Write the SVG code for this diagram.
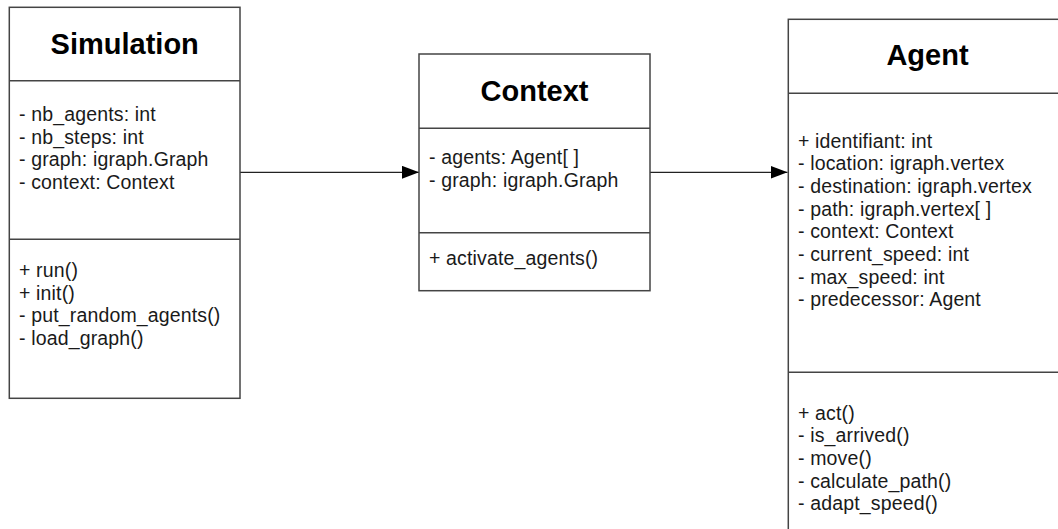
<svg xmlns="http://www.w3.org/2000/svg" width="1058" height="529" viewBox="0 0 1058 529">
<style>
.box{fill:#fff;stroke:#444;stroke-width:1.5}
.sep{stroke:#444;stroke-width:1.5}
.title{font-family:"Liberation Sans",Arial,sans-serif;font-weight:bold;font-size:29px;fill:#000;text-anchor:middle}
.txt{font-family:"Liberation Sans",Arial,sans-serif;font-size:19.5px;letter-spacing:0.15px;fill:#1a1a1a}
.conn{stroke:#222;stroke-width:1.3;fill:none}
</style>
<defs>
<marker id="arr" markerUnits="userSpaceOnUse" markerWidth="18" markerHeight="14" refX="17" refY="6.5" orient="auto">
<path d="M0,0 L17,6.5 L0,13 Z" fill="#000"/>
</marker>
</defs>
<rect width="1058" height="529" fill="#fff"/>
<g id="connectors">
<line class="conn" x1="240" y1="172.3" x2="419" y2="172.3" marker-end="url(#arr)"/>
<line class="conn" x1="650" y1="172.3" x2="787.5" y2="172.3" marker-end="url(#arr)"/>
</g>
<g id="simulation">
<rect class="box" x="9.3" y="7.3" width="230.7" height="391"/>
<line class="sep" x1="9.3" y1="80.7" x2="240" y2="80.7"/>
<line class="sep" x1="9.3" y1="239.3" x2="240" y2="239.3"/>
<text class="title" x="124.7" y="54.3">Simulation</text>
<text class="txt"><tspan x="19" y="121">- nb_agents: int</tspan><tspan x="19" y="143.7">- nb_steps: int</tspan><tspan x="19" y="166.3">- graph: igraph.Graph</tspan><tspan x="19" y="189">- context: Context</tspan></text>
<text class="txt"><tspan x="19" y="277">+ run()</tspan><tspan x="19" y="299.6">+ init()</tspan><tspan x="19" y="322.2">- put_random_agents()</tspan><tspan x="19" y="344.8">- load_graph()</tspan></text>
</g>
<g id="context">
<rect class="box" x="419" y="54" width="231" height="236.7"/>
<line class="sep" x1="419" y1="128.3" x2="650" y2="128.3"/>
<line class="sep" x1="419" y1="232.7" x2="650" y2="232.7"/>
<text class="title" x="534.5" y="101">Context</text>
<text class="txt"><tspan x="429" y="164.3">- agents: Agent[ ]</tspan><tspan x="429" y="187">- graph: igraph.Graph</tspan></text>
<text class="txt"><tspan x="429" y="264.5">+ activate_agents()</tspan></text>
</g>
<g id="agent">
<rect class="box" x="788.3" y="19.3" width="278" height="520"/>
<line class="sep" x1="788.3" y1="93.3" x2="1066.3" y2="93.3"/>
<line class="sep" x1="788.3" y1="372.2" x2="1066.3" y2="372.2"/>
<text class="title" x="927.5" y="65">Agent</text>
<text class="txt"><tspan x="798" y="147.7">+ identifiant: int</tspan><tspan x="798" y="170.3">- location: igraph.vertex</tspan><tspan x="798" y="193">- destination: igraph.vertex</tspan><tspan x="798" y="215.7">- path: igraph.vertex[ ]</tspan><tspan x="798" y="238.3">- context: Context</tspan><tspan x="798" y="261">- current_speed: int</tspan><tspan x="798" y="283.7">- max_speed: int</tspan><tspan x="798" y="306.3">- predecessor: Agent</tspan></text>
<text class="txt"><tspan x="798" y="419.7">+ act()</tspan><tspan x="798" y="442.3">- is_arrived()</tspan><tspan x="798" y="464.9">- move()</tspan><tspan x="798" y="487.5">- calculate_path()</tspan><tspan x="798" y="510.1">- adapt_speed()</tspan></text>
</g>
</svg>
